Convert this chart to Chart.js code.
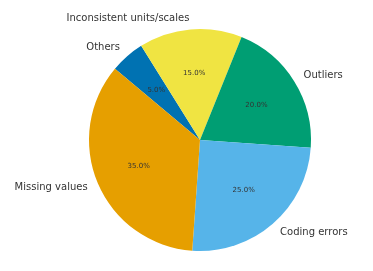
<!DOCTYPE html>
<html><head><meta charset="utf-8">
<script src="https://cdn.jsdelivr.net/npm/chart.js@4"></script>
<style>html,body{margin:0;padding:0;background:#fff;}#wrap{width:373px;height:271px;}</style>
</head><body><div id="wrap"><canvas id="c" width="373" height="271"></canvas></div>
<script>
const categories = ['Missing values', 'Coding errors', 'Outliers', 'Inconsistent units/scales', 'Others'];
const values = [35, 25, 20, 15, 5];
const colors = ['#E69F00', '#56B4E9', '#009E73', '#F0E442', '#0072B2'];

// matplotlib draws counter-clockwise; Chart.js clockwise -> reverse order
const cLabels = categories.slice().reverse();
const cValues = values.slice().reverse();
const cColors = colors.slice().reverse();
const total = values.reduce((a, b) => a + b, 0);

const labelPlugin = {
  id: 'pieLabels',
  afterDatasetsDraw(chart) {
    const ctx = chart.ctx;
    const meta = chart.getDatasetMeta(0);
    ctx.save();
    meta.data.forEach((arc, i) => {
      const mid = (arc.startAngle + arc.endAngle) / 2;
      const r = arc.outerRadius;
      const cx = arc.x, cy = arc.y;
      const cos = Math.cos(mid), sin = Math.sin(mid);
      // outer label
      ctx.font = '10px "DejaVu Sans"';
      ctx.fillStyle = '#333';
      ctx.textBaseline = 'middle';
      ctx.textAlign = cos > 0 ? 'left' : 'right';
      ctx.fillText(cLabels[i], cx + 1.1 * r * cos, cy + 1.1 * r * sin);
      // percentage
      ctx.font = '7px "DejaVu Sans"';
      ctx.textAlign = 'center';
      ctx.fillText((cValues[i] / total * 100).toFixed(1) + '%', cx + 0.6 * r * cos, cy + 0.6 * r * sin);
    });
    ctx.restore();
  }
};

new Chart(document.getElementById('c'), {
  type: 'pie',
  data: {
    labels: cLabels,
    datasets: [{ data: cValues, backgroundColor: cColors, borderWidth: 0 }]
  },
  options: {
    responsive: false,
    animation: false,
    rotation: -50,
    layout: { padding: { top: 29, bottom: 20, left: 89, right: 62 } },
    plugins: { legend: { display: false }, tooltip: { enabled: false } }
  },
  plugins: [labelPlugin]
});
</script></body></html>
